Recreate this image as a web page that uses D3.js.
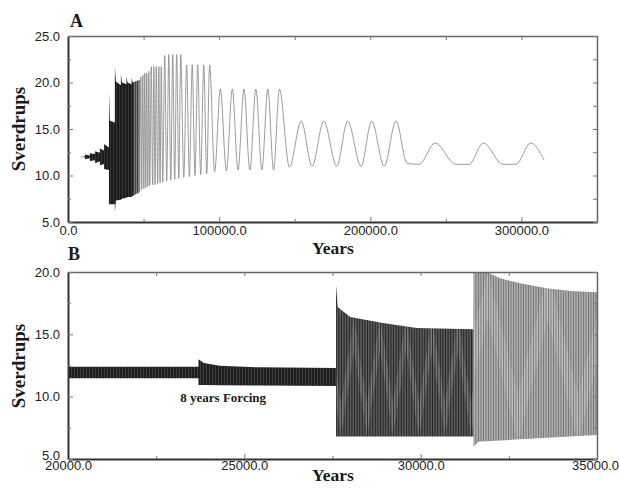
<!DOCTYPE html>
<html>
<head>
<meta charset="utf-8">
<script src="https://cdn.jsdelivr.net/npm/d3@7/dist/d3.min.js"></script>
<style>
  body { margin: 0; background: #fff; }
  .tick text { font-family: "Liberation Sans", Arial, sans-serif; font-size: 13px; fill: #222; }
  .ttl { font-family: "Liberation Serif", "Times New Roman", serif; font-weight: bold; fill: #1a1a1a; }
</style>
</head>
<body>
<svg id="chart" width="619" height="491"></svg>
<script>
// ---------- Panel A : full run (years 0 - 350000) ----------
const aXTicks = [0, 100000, 200000, 300000];
const aXMinor = [50000, 150000, 250000, 350000];
const aYTicks = [5, 10, 15, 20, 25];
const aYMinor = [7.5, 12.5, 17.5, 22.5];

// envelope of the dense (unresolved) part of the record
const aEnvYears = [7300, 11200, 11200, 14500, 14500, 17800, 17800, 21100, 21100, 23800, 23800, 27100,
                   27100, 27700, 31000, 31000, 31700, 35000, 35000, 35700, 38700, 38700, 39400, 42000, 42000, 42700, 47500];
const aEnvTop = [12.0, 12.05, 12.25, 12.15, 12.4, 12.3, 12.6, 12.45, 12.9, 12.7, 13.4, 13.0,
                 19.0, 15.9, 15.7, 21.7, 20.1, 19.7, 20.9, 20.0, 19.8, 20.6, 20.0, 19.8, 20.5, 20.0, 20.3];
const aEnvBot = [12.0, 11.95, 11.75, 11.85, 11.55, 11.65, 11.35, 11.5, 11.1, 11.25, 10.7, 10.6,
                 6.9, 6.9, 6.9, 6.0, 7.3, 7.4, 7.4, 7.5, 7.6, 7.6, 7.7, 7.7, 7.7, 7.8, 8.2];
const aShadeBreaks = [7000, 43600, 47500];

// resolved oscillations: successive troughs and peaks
const aOscYears = [47500, 48200, 48800, 49500, 50200, 50800, 51500, 52100, 52800, 53500, 54100,
                   55100, 56000, 56800, 57600, 58400, 59300, 60100, 60900, 61700, 62700,
                   64000, 65300, 66700, 68000, 69300, 70600, 71900, 73300, 74600, 76600,
                   78500, 80300, 82200, 84000, 85800, 87800, 89800, 91800, 93700, 97000,
                   100800, 104800, 108700, 112500, 116400, 120300, 124300, 128300, 132200, 136000, 139900, 146500,
                   154300, 161500, 169200, 177800, 185000, 193900, 200900, 209200, 217000,
                   224400, 232300, 242900, 256600, 265400, 274800, 287800, 296400, 306100, 314900];
const aOscValues = [8.3, 20.6, 8.5, 20.8, 8.6, 21.0, 8.7, 21.0, 8.8, 21.2, 8.9,
                    21.7, 9.0, 21.7, 9.0, 21.7, 9.1, 21.7, 9.2, 21.7, 9.3,
                    22.9, 9.4, 23.0, 9.5, 23.0, 9.6, 23.0, 9.7, 23.0, 9.8,
                    21.9, 9.9, 21.9, 10.0, 21.9, 10.1, 21.9, 10.2, 21.9, 10.4,
                    19.3, 10.5, 19.3, 10.6, 19.3, 10.6, 19.3, 10.6, 19.3, 10.6, 19.3, 10.9,
                    15.85, 11.0, 15.85, 11.0, 15.85, 11.0, 15.85, 11.0, 15.85,
                    11.3, 11.2, 13.5, 11.2, 11.2, 13.5, 11.2, 11.2, 13.5, 11.7];

// ---------- Panel B : zoom on years 20000 - 35000 ----------
const bXTicks = [20000, 25000, 30000, 35000];
const bXMinor = [22500, 27500, 32500];
const bYTicks = [5, 10, 15, 20];
const bYMinor = [7.5, 12.5, 17.5];

const bEnvYears = [20000, 23700, 23700, 23850, 24300, 25450, 27600,
                   27600, 27650, 28000, 28930, 29890, 31500,
                   31500, 31650, 31880, 32250, 32820, 33580, 34240, 35000];
const bEnvTop = [12.4, 12.4, 13.0, 12.7, 12.47, 12.35, 12.3,
                 18.95, 17.2, 16.4, 15.9, 15.5, 15.4,
                 20.6, 20.3, 20.0, 19.5, 19.1, 18.7, 18.47, 18.37];
const bEnvBot = [11.47, 11.47, 10.93, 10.93, 10.92, 10.9, 10.85,
                 6.8, 6.8, 6.8, 6.8, 6.8, 6.8,
                 6.0, 6.4, 6.42, 6.48, 6.58, 6.7, 6.8, 6.92];
const bShadeBreaks = [20000, 27600, 31500, 35000];
const bNote = { year: 24400, value: 9.55, text: "8 years Forcing" };

// ---------- drawing ----------
const svg = d3.select('#chart');
const defs = svg.append('defs');
const L = 68, R = 597;

// hatch fill that imitates the unresolved oscillation lines, with an optional beat (moire) shading
function hatch(id, bg, fg, step, w, period, y0, h, shade, op) {
  const p = defs.append('pattern').attr('id', id)
    .attr('patternUnits', 'userSpaceOnUse').attr('x', L).attr('y', y0)
    .attr('width', period).attr('height', h);
  p.append('rect').attr('width', period).attr('height', h).attr('fill', bg);
  for (let s = 0; s < period - 0.01; s += step)
    p.append('rect').attr('x', s).attr('width', w).attr('height', h).attr('fill', fg);
  if (shade) {
    const m = period / 2;
    p.append('path').attr('fill', shade).attr('opacity', op)
      .attr('d', `M0,0 L${period},0 L${m},${h * 0.72} Z`);
    p.append('path').attr('fill', shade).attr('opacity', op)
      .attr('d', `M${-m},${h} L${m},${h} L0,${h * 0.28} Z M${m},${h} L${period + m},${h} L${period},${h * 0.28} Z`);
  }
}

function frame(g, x, y, xt, xm, yt, ym, top, bottom, pad) {
  const fmt = d3.format('.1f');
  g.append('g').attr('transform', `translate(0,${bottom})`)
    .call(d3.axisBottom(x).tickValues(xt).tickFormat(fmt).tickSizeInner(-5).tickSizeOuter(0).tickPadding(pad))
    .call(a => a.select('.domain').attr('stroke', '#333').attr('stroke-width', 2));
  g.append('g').attr('transform', `translate(0,${bottom})`)
    .call(d3.axisBottom(x).tickValues(xm).tickFormat('').tickSizeInner(-3).tickSizeOuter(0))
    .call(a => a.select('.domain').remove());
  g.append('g').attr('transform', `translate(0,${top})`)
    .call(d3.axisTop(x).tickValues(xt.concat(xm)).tickFormat('').tickSizeInner(-4).tickSizeOuter(0))
    .call(a => a.select('.domain').attr('stroke', '#666').attr('stroke-width', 1.5));
  g.append('g').attr('transform', `translate(${L},0)`)
    .call(d3.axisLeft(y).tickValues(yt).tickFormat(fmt).tickSizeInner(-5).tickSizeOuter(0).tickPadding(8))
    .call(a => a.select('.domain').attr('stroke', '#333').attr('stroke-width', 2));
  g.append('g').attr('transform', `translate(${L},0)`)
    .call(d3.axisLeft(y).tickValues(ym).tickFormat('').tickSizeInner(-3).tickSizeOuter(0))
    .call(a => a.select('.domain').remove());
  g.append('g').attr('transform', `translate(${R},0)`)
    .call(d3.axisRight(y).tickValues(yt.concat(ym)).tickFormat('').tickSizeInner(-4).tickSizeOuter(0))
    .call(a => a.select('.domain').attr('stroke', '#666').attr('stroke-width', 1.5));
  g.selectAll('.tick line').attr('stroke', '#777');
}

function envelope(g, x, y, years, top, bot, breaks, fills, id) {
  const idx = d3.range(years.length);
  const area = d3.area().x(i => x(years[i])).y0(i => y(bot[i])).y1(i => y(top[i]));
  fills.forEach((f, k) => {
    defs.append('clipPath').attr('id', id + k).append('rect')
      .attr('x', x(breaks[k])).attr('width', x(breaks[k + 1]) - x(breaks[k]))
      .attr('y', 0).attr('height', 491);
    g.append('path').datum(idx).attr('clip-path', `url(#${id + k})`)
      .attr('fill', f).attr('d', area);
  });
}

// Panel A
const xA = d3.scaleLinear().domain([0, 350000]).range([L, R]);
const yA = d3.scaleLinear().domain([5, 25]).range([222, 36]);
hatch('blkA', '#1b1b1b', '#3a3a3a', 3, 0.8, 3, 0, 10);
hatch('dgrayA', '#404040', '#8e8e8e', 2, 0.8, 2, 0, 10);
const gA = svg.append('g');
envelope(gA, xA, yA, aEnvYears, aEnvTop, aEnvBot, aShadeBreaks, ['url(#blkA)', 'url(#dgrayA)'], 'clipA');
gA.append('path').datum(d3.range(aOscYears.length))
  .attr('fill', 'none').attr('stroke', '#8a8a8a').attr('stroke-width', 0.85)
  .attr('d', d3.line().x(i => xA(aOscYears[i])).y(i => yA(aOscValues[i])).curve(d3.curveMonotoneX));
frame(gA, xA, yA, aXTicks, aXMinor, aYTicks, aYMinor, 36, 222, 4);

// Panel B
const xB = d3.scaleLinear().domain([20000, 35000]).range([L, R]);
const yB = d3.scaleLinear().domain([5, 20]).range([459, 272]);
hatch('blkB', '#1e1e1e', '#444', 3, 0.8, 3, 0, 10);
hatch('midB', '#7a7a7a', '#2e2e2e', 2.6, 1, 26, yB(16.4), yB(6.8) - yB(16.4), '#111', 0.3);
hatch('lightB', '#bdbdbd', '#777', 2.5, 0.9, 60, yB(20), yB(6.4) - yB(20), '#444', 0.12);
const gB = svg.append('g');
defs.append('clipPath').attr('id', 'plotB').append('rect')
  .attr('x', L).attr('y', 272).attr('width', R - L).attr('height', 459 - 272);
const gBc = gB.append('g').attr('clip-path', 'url(#plotB)');
envelope(gBc, xB, yB, bEnvYears, bEnvTop, bEnvBot, bShadeBreaks, ['url(#blkB)', 'url(#midB)', 'url(#lightB)'], 'clipB');
gB.append('text').attr('class', 'ttl')
  .attr('x', xB(bNote.year)).attr('y', yB(bNote.value))
  .attr('text-anchor', 'middle').style('font-size', '13px').text(bNote.text);
frame(gB, xB, yB, bXTicks, bXMinor, bYTicks, bYMinor, 272, 459, 2);
// keep the end labels inside the page, as in the original layout
gB.selectAll('.tick text').filter(d => d === 35000).attr('dx', '-2');
gB.selectAll('.tick text').filter(d => d === 5).attr('dy', '0em');

// titles
const ttl = (txt, x, y, size, rot) => svg.append('text').attr('class', 'ttl')
  .attr('transform', `translate(${x},${y})` + (rot ? ' rotate(-90)' : ''))
  .attr('text-anchor', rot !== undefined ? 'middle' : 'start')
  .style('font-size', size + 'px').text(txt);
ttl('A', 70, 27, 18);
ttl('B', 68, 260, 18);
ttl('Sverdrups', 25, 129, 19, true);
ttl('Sverdrups', 25, 366, 19, true);
ttl('Years', 333, 254, 17.5, false);
ttl('Years', 333, 481, 17.5, false);
</script>
</body>
</html>
